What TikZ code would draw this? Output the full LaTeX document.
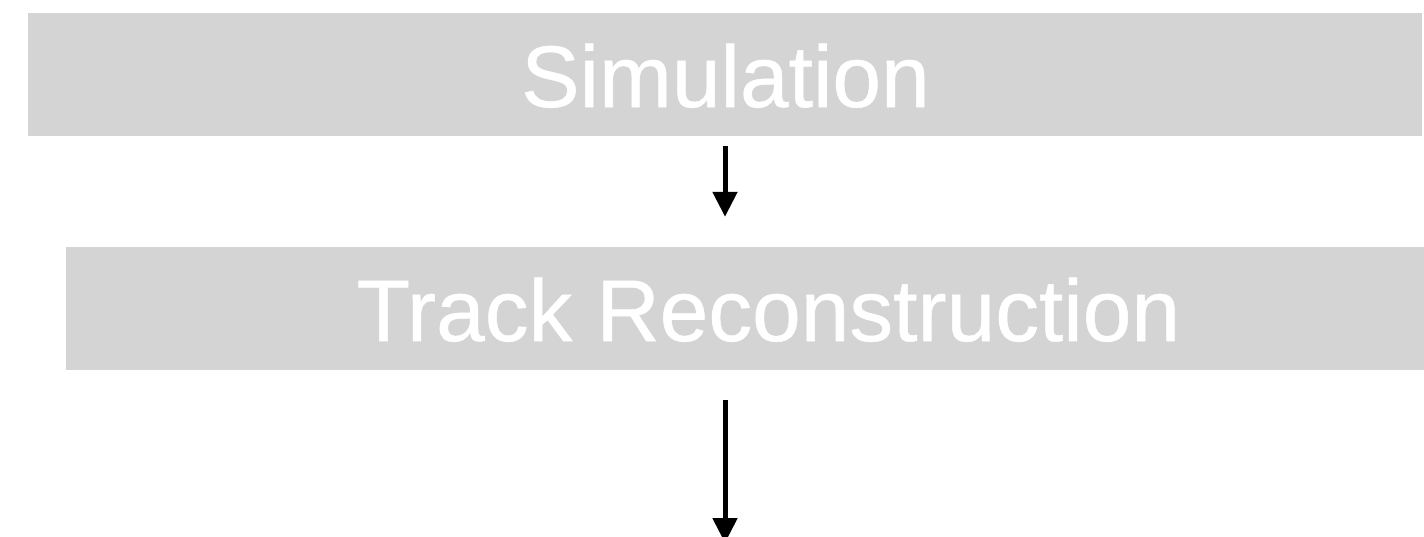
\documentclass[tikz,border=0pt]{standalone}
\usepackage{fontspec}
\setmainfont{Liberation Sans}
\newfontfamily\stagefont{Liberation Sans}[FakeBold=0.6]
\usetikzlibrary{arrows.meta}
\definecolor{boxgray}{HTML}{D4D4D4}
\begin{document}
\begin{tikzpicture}[x=1pt,y=-1pt,
  stage/.style={fill=boxgray,inner sep=0pt,anchor=center},
  label/.style={text=white,font=\stagefont\fontsize{87.5}{90}\selectfont,inner sep=0pt,anchor=base},
  flow/.style={line width=5pt,-{Triangle[length=25pt,width=24pt]}}]
\clip (0,0) rectangle (1424,536);
\fill[white] (0,0) rectangle (1424,536);
\node[stage,minimum width=1394pt,minimum height=123pt] (sim) at (725,74.5) {};
\node[label] (simt) at (725.5,107) {Simulation};
\node[stage,minimum width=1405pt,minimum height=123pt] (trk) at (768.5,308.5) {};
\node[label] (trkt) at (768.5,341) {Track Reconstruction};
\coordinate (out) at (725,543);
\draw[flow,shorten <=10pt,shorten >=30pt] (sim.south) -- (sim.south |- trk.north);
\draw[flow,shorten <=30pt] (sim.south |- trk.south) -- (out);
\end{tikzpicture}
\end{document}
